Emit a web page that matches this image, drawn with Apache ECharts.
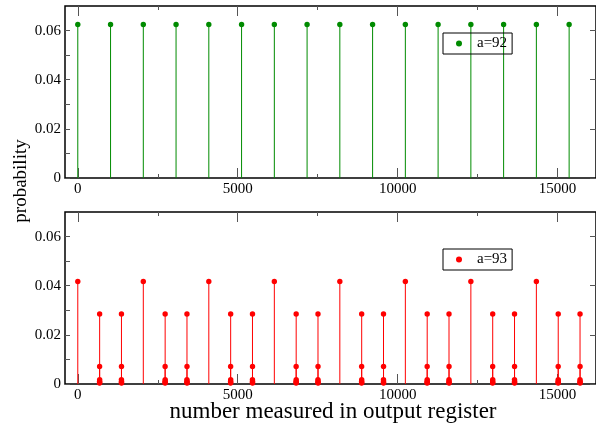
<!DOCTYPE html>
<html>
<head>
<meta charset="utf-8">
<script src="https://cdn.jsdelivr.net/npm/echarts@6/dist/echarts.min.js"></script>
<style>html,body{margin:0;padding:0;background:#fff}#c{width:596px;height:426px}</style>
</head>
<body>
<div id="c"></div>
<script>
// ---- data ----
const xTickValues = [0, 5000, 10000, 15000];
const xMinorTickValues = [2500, 7500, 12500];
const yTickValues = [0, 0.02, 0.04, 0.06];
const yMinorTickValues = [0.01, 0.03, 0.05];

const x92 = [0, 1024, 2048, 3072, 4096, 5120, 6144, 7168, 8192, 9216, 10240, 11264, 12288, 13312, 14336, 15360];
const p92 = [0.0625, 0.0625, 0.0625, 0.0625, 0.0625, 0.0625, 0.0625, 0.0625, 0.0625, 0.0625, 0.0625, 0.0625, 0.0625, 0.0625, 0.0625, 0.0625];

const x93 = [
  0,
  683, 682, 684, 681, 685, 680,
  1365, 1366, 1364, 1367, 1363, 1368,
  2048,
  2731, 2730, 2732, 2729, 2733, 2728,
  3413, 3414, 3412, 3415, 3411, 3416,
  4096,
  4779, 4778, 4780, 4777, 4781, 4776,
  5461, 5462, 5460, 5463, 5459, 5464,
  6144,
  6827, 6826, 6828, 6825, 6829, 6824,
  7509, 7510, 7508, 7511, 7507, 7512,
  8192,
  8875, 8874, 8876, 8873, 8877, 8872,
  9557, 9558, 9556, 9559, 9555, 9560,
  10240,
  10923, 10922, 10924, 10921, 10925, 10920,
  11605, 11606, 11604, 11607, 11603, 11608,
  12288,
  12971, 12970, 12972, 12969, 12973, 12968,
  13653, 13654, 13652, 13655, 13651, 13656,
  14336,
  15019, 15018, 15020, 15017, 15021, 15016,
  15701, 15702, 15700, 15703, 15699, 15704
];
const p93 = [
  0.0417,
  0.0285, 0.0071, 0.0018, 0.0011, 0.0006, 0.0004,
  0.0285, 0.0071, 0.0018, 0.0011, 0.0006, 0.0004,
  0.0417,
  0.0285, 0.0071, 0.0018, 0.0011, 0.0006, 0.0004,
  0.0285, 0.0071, 0.0018, 0.0011, 0.0006, 0.0004,
  0.0417,
  0.0285, 0.0071, 0.0018, 0.0011, 0.0006, 0.0004,
  0.0285, 0.0071, 0.0018, 0.0011, 0.0006, 0.0004,
  0.0417,
  0.0285, 0.0071, 0.0018, 0.0011, 0.0006, 0.0004,
  0.0285, 0.0071, 0.0018, 0.0011, 0.0006, 0.0004,
  0.0417,
  0.0285, 0.0071, 0.0018, 0.0011, 0.0006, 0.0004,
  0.0285, 0.0071, 0.0018, 0.0011, 0.0006, 0.0004,
  0.0417,
  0.0285, 0.0071, 0.0018, 0.0011, 0.0006, 0.0004,
  0.0285, 0.0071, 0.0018, 0.0011, 0.0006, 0.0004,
  0.0417,
  0.0285, 0.0071, 0.0018, 0.0011, 0.0006, 0.0004,
  0.0285, 0.0071, 0.0018, 0.0011, 0.0006, 0.0004,
  0.0417,
  0.0285, 0.0071, 0.0018, 0.0011, 0.0006, 0.0004,
  0.0285, 0.0071, 0.0018, 0.0011, 0.0006, 0.0004
];

// ---- styling ----
const FONT = "'Liberation Serif', 'DejaVu Serif', serif";
const GREEN = 'rgb(0,139,0)';
const RED = 'rgb(255,0,0)';
const TICK = '#555';
const XMIN = -400, XMAX = 16200, YMIN = 0, YMAX = 0.07;

function xAxes(gridIndex) {
  const base = {type: 'value', gridIndex, min: XMIN, max: XMAX, splitLine: {show: false}, axisLine: {show: false, onZero: false}};
  return [
    Object.assign({}, base, {position: 'bottom',
      axisTick: {show: true, inside: true, length: 10, customValues: xTickValues, lineStyle: {color: TICK}},
      axisLabel: {show: true, customValues: xTickValues, margin: 4, fontFamily: FONT, fontSize: 15, color: '#000',
        formatter: v => String(v)}}),
    Object.assign({}, base, {position: 'bottom',
      axisTick: {show: true, inside: true, length: 4, customValues: xMinorTickValues, lineStyle: {color: TICK}},
      axisLabel: {show: false}}),
    Object.assign({}, base, {position: 'top',
      axisTick: {show: true, inside: true, length: 10, customValues: xTickValues, lineStyle: {color: TICK}},
      axisLabel: {show: false}}),
    Object.assign({}, base, {position: 'top',
      axisTick: {show: true, inside: true, length: 4, customValues: xMinorTickValues, lineStyle: {color: TICK}},
      axisLabel: {show: false}})
  ];
}
function yAxes(gridIndex) {
  const base = {type: 'value', gridIndex, min: YMIN, max: YMAX, splitLine: {show: false}, axisLine: {show: false, onZero: false}};
  return [
    Object.assign({}, base, {position: 'left',
      axisTick: {show: true, inside: true, length: 5, customValues: yTickValues.concat(yMinorTickValues), lineStyle: {color: TICK}},
      axisLabel: {show: true, customValues: yTickValues, margin: 4, fontFamily: FONT, fontSize: 15, color: '#000',
        formatter: v => (v === 0 ? '0' : v.toFixed(2))}}),
    Object.assign({}, base, {position: 'right',
      axisTick: {show: true, inside: true, length: 6, customValues: yTickValues, lineStyle: {color: TICK}},
      axisLabel: {show: false}})
  ];
}

function stemSeries(name, xs, ps, color, xIdx, yIdx) {
  return {
    type: 'custom', name, xAxisIndex: xIdx, yAxisIndex: yIdx,
    itemStyle: {color},
    encode: {x: 0, y: 1},
    data: xs.map((x, i) => [x, ps[i]]),
    renderItem: (params, api) => {
      const x = api.value(0), y = api.value(1);
      const top = api.coord([x, y]);
      const base = api.coord([x, 0]);
      return {type: 'group', children: [
        {type: 'line', shape: {x1: top[0], y1: base[1], x2: top[0], y2: top[1]}, style: {stroke: color, lineWidth: 1}},
        {type: 'circle', shape: {cx: top[0], cy: top[1], r: 2.7}, style: {fill: color}, z2: 5}
      ]};
    }
  };
}

const chart = echarts.init(document.getElementById('c'), null, {renderer: 'canvas'});
chart.setOption({
  animation: false,
  backgroundColor: '#fff',
  grid: [
    {left: 65, top: 6, width: 531, height: 172, show: true, borderColor: '#000', borderWidth: 1.5, backgroundColor: 'transparent'},
    {left: 65, top: 212, width: 531, height: 172, show: true, borderColor: '#000', borderWidth: 1.5, backgroundColor: 'transparent'}
  ],
  xAxis: xAxes(0).concat(xAxes(1)),
  yAxis: yAxes(0).concat(yAxes(1)),
  legend: [
    {data: [{name: 'a=92', icon: 'circle'}], left: 443, top: 33, orient: 'vertical',
      itemWidth: 6, itemHeight: 6, padding: [3, 5, 3, 13], borderColor: '#000', borderWidth: 1,
      textStyle: {fontFamily: FONT, fontSize: 15, color: '#000', padding: [0, 0, 0, 10]}},
    {data: [{name: 'a=93', icon: 'circle'}], left: 443, top: 249, orient: 'vertical',
      itemWidth: 6, itemHeight: 6, padding: [3, 5, 3, 13], borderColor: '#000', borderWidth: 1,
      textStyle: {fontFamily: FONT, fontSize: 15, color: '#000', padding: [0, 0, 0, 10]}}
  ],
  graphic: [
    {type: 'text', x: 21, y: 181, rotation: Math.PI / 2,
      style: {text: 'probability', font: '19px ' + FONT, fill: '#000', align: 'center', verticalAlign: 'middle'}},
    {type: 'text', x: 333, y: 412,
      style: {text: 'number measured in output register', font: '23px ' + FONT, fill: '#000', align: 'center', verticalAlign: 'middle'}}
  ],
  series: [
    stemSeries('a=92', x92, p92, GREEN, 0, 0),
    stemSeries('a=93', x93, p93, RED, 4, 2)
  ]
});
</script>
</body>
</html>
